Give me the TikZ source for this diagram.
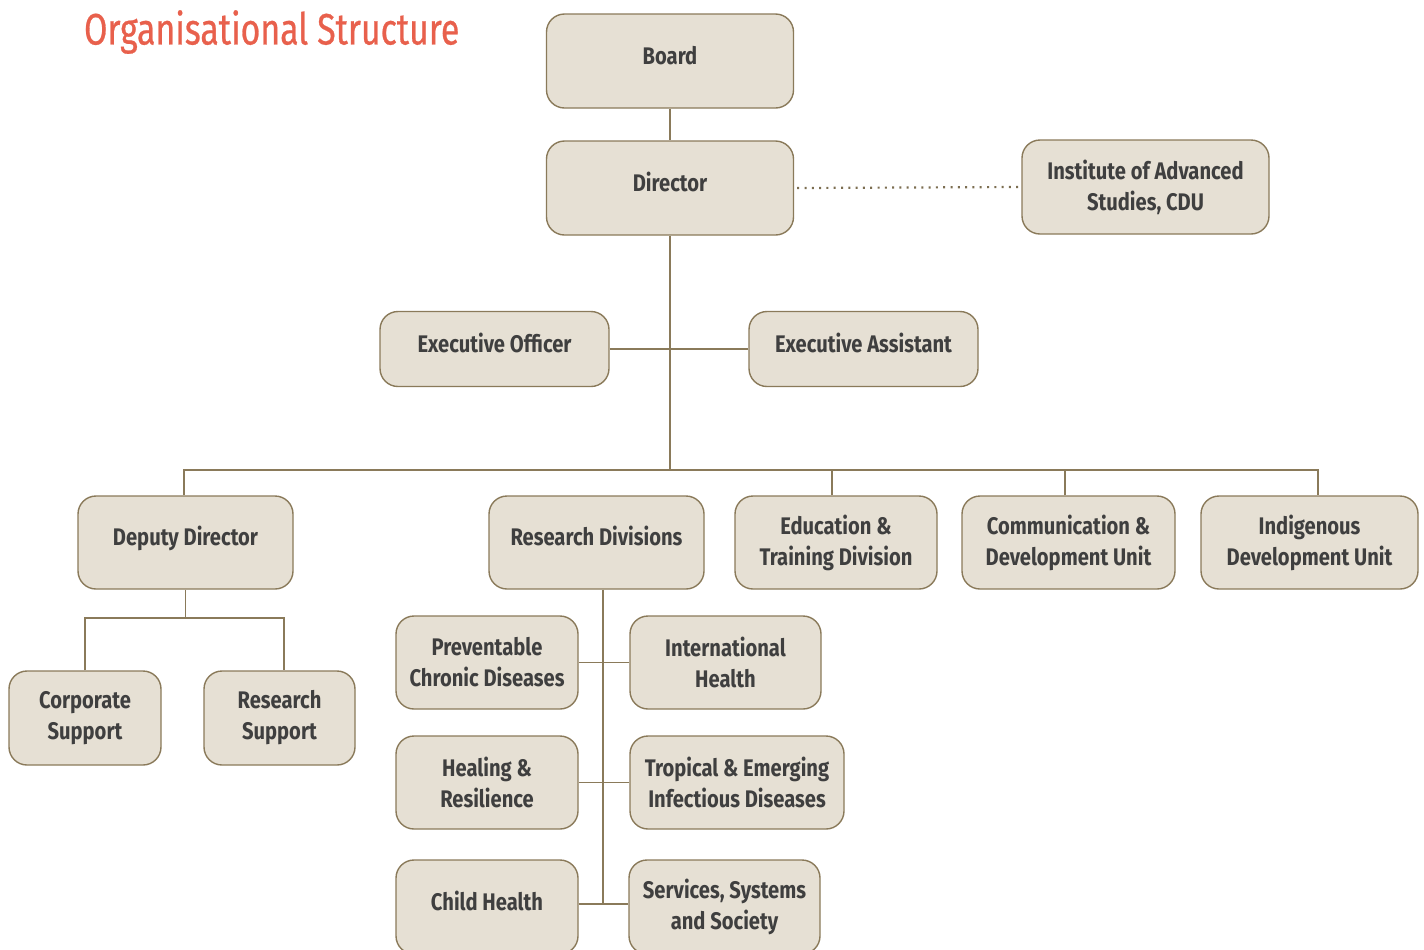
\documentclass[tikz,border=0pt]{standalone}
\usepackage{fontspec}
\setmainfont{Fira Sans}[FakeStretch=0.84]
\newfontfamily\titlefont{Fira Sans}[FakeStretch=0.77, FakeBold=0.6]

\begin{document}
\begin{tikzpicture}[x=0.5pt,y=-0.5pt]
  \definecolor{boxfill}{HTML}{E6E0D4}
  \definecolor{boxline}{HTML}{8A7A5A}
  \definecolor{boxtext}{HTML}{3F3F3F}
  \definecolor{titlered}{HTML}{E8604C}

  \tikzset{unit/.style = {rectangle, rounded corners=9pt, draw=boxline, fill=boxfill, line width=0.7pt, text=boxtext, font=\bfseries\fontsize{12}{15.5}\selectfont, align=center, inner sep=0pt}, }
  \tikzset{oneline/.style = {text height=9pt, text depth=6pt}, }
  \tikzset{link/.style = {draw=boxline, line width=0.7pt}, }
  \tikzset{dots/.style = {draw=boxline!90!black, line width=1.1pt, dash pattern=on 1pt off 2.65pt}, }

  \useasboundingbox (0,0) rectangle (1424,949);

  \node[anchor=west, text=titlered, font=\titlefont\fontsize{22}{26}\selectfont] (title) at (77,32) {Organisational Structure};

  % top
  \node[unit, oneline, minimum width=123.5pt, minimum height=47pt] (Board) at (670,61) {Board};
  \node[unit, oneline, minimum width=123.5pt, minimum height=47pt] (Director) at (670,188) {Director};
  \node[unit, minimum width=123.5pt, minimum height=47pt] (Institute) at (1145.5,187) {Institute of Advanced\\Studies, CDU};
  \node[unit, oneline, minimum width=114.5pt, minimum height=37.5pt] (ExecOff) at (494.5,349) {Executive Officer};
  \node[unit, oneline, minimum width=114.5pt, minimum height=37.5pt] (ExecAss) at (863.5,349) {Executive Assistant};

  % second level
  \node[unit, oneline, minimum width=107.5pt, minimum height=46.5pt] (Deputy) at (185.5,542.5) {Deputy Director};
  \node[unit, oneline, minimum width=107.5pt, minimum height=46.5pt] (ResDiv) at (596.5,542.5) {Research Divisions};
  \node[unit, minimum width=101pt, minimum height=46.5pt] (Edu) at (836,542.5) {Education \&\\Training Division};
  \node[unit, minimum width=106.5pt, minimum height=46.5pt] (Comm) at (1068.5,542.5) {Communication \&\\Development Unit};
  \node[unit, minimum width=108.5pt, minimum height=46.5pt] (Indig) at (1309.5,542.5) {Indigenous\\Development Unit};

  % support units
  \node[unit, minimum width=76pt, minimum height=47pt] (CorpSup) at (85,718) {Corporate\\Support};
  \node[unit, minimum width=75.5pt, minimum height=47pt] (ResSup) at (279.5,718) {Research\\Support};

  % research divisions
  \node[unit, minimum width=91pt, minimum height=46.5pt] (Prev) at (487,662.5) {Preventable\\Chronic Diseases};
  \node[unit, minimum width=95.5pt, minimum height=46.5pt] (Intl) at (725.5,662.5) {International\\Health};
  \node[unit, minimum width=91pt, minimum height=46.5pt] (Heal) at (487,782.5) {Healing \&\\Resilience};
  \node[unit, minimum width=107pt, minimum height=46.5pt] (Trop) at (737,782.5) {Tropical \& Emerging\\Infectious Diseases};
  \node[unit, oneline, minimum width=91pt, minimum height=47pt] (Child) at (487,907) {Child Health};
  \node[unit, minimum width=95.5pt, minimum height=47pt] (Serv) at (724.5,907) {Services, Systems\\and Society};

  \coordinate (bus) at (Director.south |- 0,470);
  \coordinate (dsplit) at (Deputy.south |- 0,618);
  \coordinate (rdbot) at (603,904);

  \path[link]
  (Board) -- (Director)
  (Director) -- (bus)
  (ExecOff) -- (ExecAss)
  ([xshift=-0.75pt]Deputy.north) |- (bus) -| ([xshift=4.25pt]Indig.north)
  (ResDiv.north -| rdbot) -- (ResDiv.north -| rdbot |- bus)
  (Deputy) -- (dsplit)
  (CorpSup.north) |- (dsplit) -| ([xshift=2.25pt]ResSup.north)
  (ResDiv.south -| rdbot) -- (rdbot)
  (Prev) -- (Intl)
  (Heal) -- (Trop)
  (Child.east |- rdbot) -- (Serv.west |- rdbot);

  \path[link] ([xshift=-2pt]Edu.north) -- ([xshift=-2pt]Edu.north |- bus);
  \path[link] ([xshift=-1.75pt]Comm.north) -- ([xshift=-1.75pt]Comm.north |- bus);

  \path[dots] ([xshift=1.5pt]Director.east) -- ([xshift=-1.5pt]Institute.west);

\end{tikzpicture}
\end{document}
